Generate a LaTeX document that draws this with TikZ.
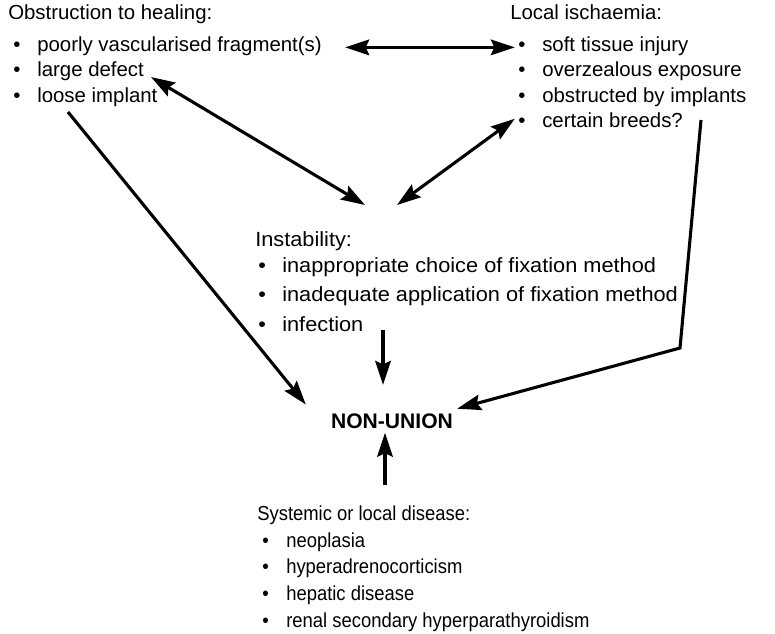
\documentclass[tikz,border=0pt]{standalone}
\usepackage{fontspec}
\setmainfont{Liberation Sans}
\newfontfamily\widefont[FakeStretch=1.06]{Liberation Sans}
\newfontfamily\narrowfont[FakeStretch=0.91]{Liberation Sans}
\usetikzlibrary{arrows.meta,positioning}
\newcommand{\bul}{\makebox[0.6cm][l]{\textbullet}}

\begin{document}
\begin{tikzpicture}[
      x=0.025cm, y=-0.025cm,
      hd/.style={anchor=west, inner sep=0pt,
                 font=\fontsize{14.5}{17}\selectfont,
                 text height=0.28cm, text depth=0.09cm},
      hdl/.style={hd, font=\widefont\fontsize{14.6}{17}\selectfont},
      hds/.style={hd, font=\narrowfont\fontsize{14.4}{17}\selectfont},
      res/.style={inner xsep=0.05cm, inner ysep=0.1cm,
                  font=\fontsize{15}{18}\selectfont\bfseries},
      arr/.style={-{Stealth[length=6mm, width=3.9mm, inset=0.9mm]},
                  line width=2.2pt},
      dbl/.style={{Stealth[length=6mm, width=3.9mm, inset=0.9mm]}-{Stealth[length=6mm, width=3.9mm, inset=0.9mm]},
                  line width=2.2pt}
  ]
    \useasboundingbox (0,0) rectangle (775,633);

    % obstruction to healing
    \node[hd] (obs) at (8,16) {Obstruction to healing:};
    \node[hd, below right=0.4cm and 0.125cm of obs.south west] (obs1) {\bul poorly vascularised fragment(s)};
    \node[hd, below right=0.255cm and 0cm of obs1.south west] (obs2) {\bul large defect};
    \node[hd, below right=0.255cm and 0cm of obs2.south west] (obs3) {\bul loose implant};

    % local ischaemia
    \node[hd] (isch) at (510,16) {Local ischaemia:};
    \node[hd, below right=0.4cm and 0.2cm of isch.south west] (isch1) {\bul soft tissue injury};
    \node[hd, below right=0.255cm and 0cm of isch1.south west] (isch2) {\bul overzealous exposure};
    \node[hd, below right=0.255cm and 0cm of isch2.south west] (isch3) {\bul obstructed by implants};
    \node[hd, below right=0.255cm and 0cm of isch3.south west] (isch4) {\bul certain breeds?};

    % instability
    \node[hdl] (inst) at (255,243) {Instability:};
    \node[hdl, below right=0.255cm and 0.075cm of inst.south west] (inst1) {\bul inappropriate choice of fixation method};
    \node[hdl, below right=0.355cm and 0cm of inst1.south west] (inst2) {\bul inadequate application of fixation method};
    \node[hdl, below right=0.355cm and 0cm of inst2.south west] (inst3) {\bul infection};

    \node[res] (nu) at (392,421) {NON-UNION};

    % systemic or local disease
    \node[hds] (sys) at (257,517) {Systemic or local disease:};
    \node[hds, below right=0.28cm and 0.125cm of sys.south west] (sys1) {\bul neoplasia};
    \node[hds, below right=0.28cm and 0cm of sys1.south west] (sys2) {\bul hyperadrenocorticism};
    \node[hds, below right=0.28cm and 0cm of sys2.south west] (sys3) {\bul hepatic disease};
    \node[hds, below right=0.28cm and 0cm of sys3.south west] (sys4) {\bul renal secondary hyperparathyroidism};

    % loose ends of the connectors
    \coordinate (instL) at (365,205);
    \coordinate (instR) at (397,205);
    \coordinate (implB) at (68,112);
    \coordinate (infA) at (383,330);
    \coordinate (breedB) at (701,120);
    \coordinate (elbow) at (680,348);
    \coordinate (sysA) at (385,485);

    \draw[dbl, shorten <=0.58cm, shorten >=0.08cm] (obs1.east) -- (isch1.west);
    \draw[dbl, shorten <=0.2cm] (obs2.east) -- (instL);
    \draw[dbl, shorten >=0.1cm] (instR) -- (isch4.north west);
    \draw[arr, shorten >=0.91cm] (implB) -- (nu.south west);
    \draw[arr, shorten >=0.61cm] (infA) -- (infA |- nu.north);
    \draw[arr, shorten >=0.05cm] (breedB) -- (elbow) -- (nu.north east);
    \draw[arr] (sysA) -- (sysA |- nu.south);
  \end{tikzpicture}
\end{document}
